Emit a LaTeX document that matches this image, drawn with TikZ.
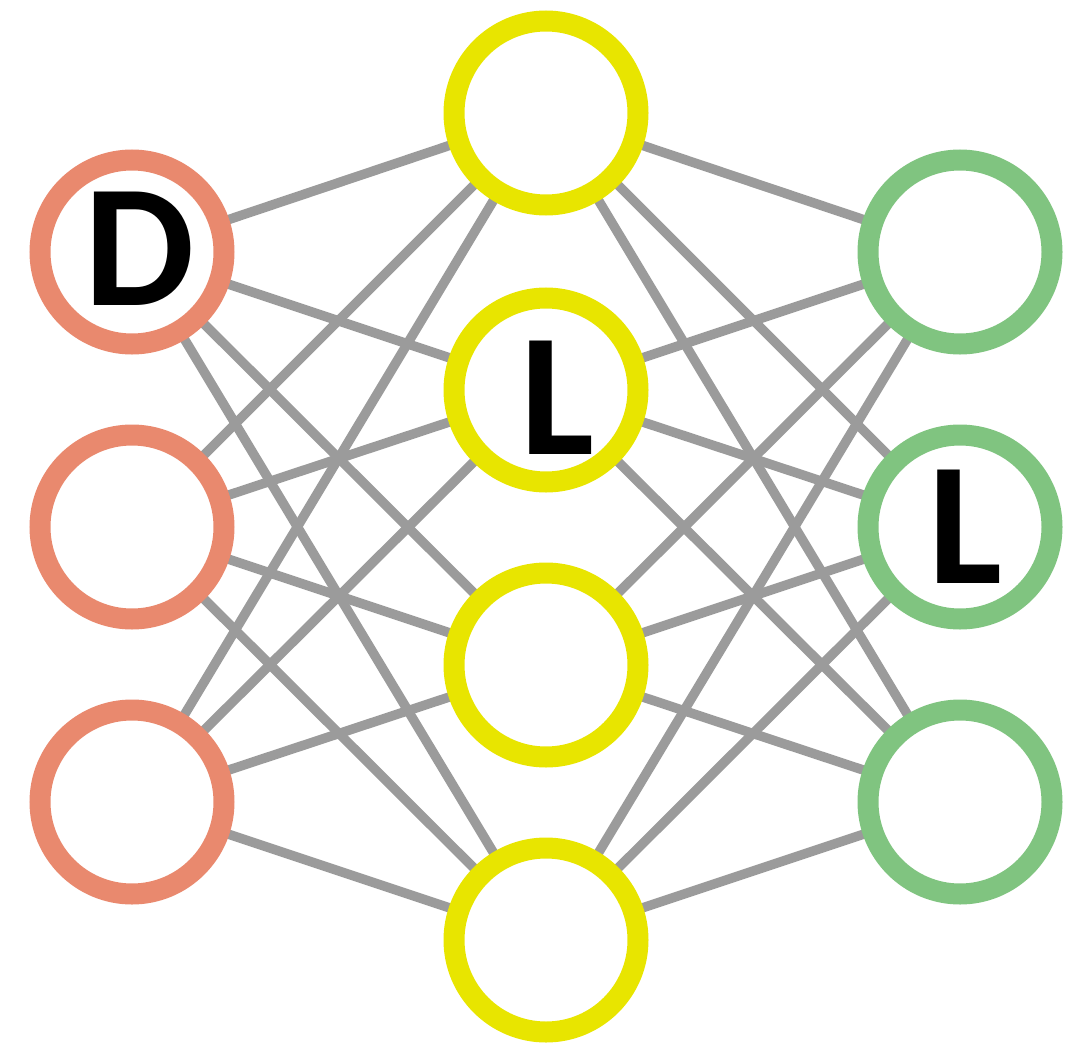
\documentclass[tikz,border=0pt]{standalone}
\usepackage{fontspec}
\usetikzlibrary{backgrounds}
\newfontfamily\lblfont{Carlito}

\definecolor{inorange}{RGB}{233,137,110}
\definecolor{hidyellow}{RGB}{232,229,0}
\definecolor{outgreen}{RGB}{128,196,128}
\definecolor{wiregray}{RGB}{155,155,155}

\tikzset{
  neuron/.style={circle,minimum size=184pt,inner sep=0pt,line width=21pt,fill=white},
  wire/.style={draw=wiregray,line width=9.5pt},
  lbl/.style={inner sep=0pt,font=\lblfont\bfseries\fontsize{175}{175}\selectfont}
}

\begin{document}
\begin{tikzpicture}[x=1pt,y=1pt,yscale=-1,xscale=1]
				\useasboundingbox (0,0) rectangle (1066,1052);

				%Shape: Circle (input layer)
				\node [neuron,draw=inorange] (in1) at (132,252) {};
				\node [neuron,draw=inorange] (in2) at (132,527) {};
				\node [neuron,draw=inorange] (in3) at (132,802) {};
				%Shape: Circle (hidden layer)
				\node [neuron,draw=hidyellow] (hid1) at (546,113) {};
				\node [neuron,draw=hidyellow] (hid2) at (546,390) {};
				\node [neuron,draw=hidyellow] (hid3) at (546,665) {};
				\node [neuron,draw=hidyellow] (hid4) at (546,940) {};
				%Shape: Circle (output layer)
				\node [neuron,draw=outgreen] (out1) at (960,252) {};
				\node [neuron,draw=outgreen] (out2) at (960,527) {};
				\node [neuron,draw=outgreen] (out3) at (960,802) {};

				\begin{pgfonlayer}{background}
				%Straight Lines (input -> hidden)
				\draw [wire] (in1.center) -- (hid1.center) ;
				\draw [wire] (in1.center) -- (hid2.center) ;
				\draw [wire] (in1.center) -- (hid3.center) ;
				\draw [wire] (in1.center) -- (hid4.center) ;
				\draw [wire] (in2.center) -- (hid1.center) ;
				\draw [wire] (in2.center) -- (hid2.center) ;
				\draw [wire] (in2.center) -- (hid3.center) ;
				\draw [wire] (in2.center) -- (hid4.center) ;
				\draw [wire] (in3.center) -- (hid1.center) ;
				\draw [wire] (in3.center) -- (hid2.center) ;
				\draw [wire] (in3.center) -- (hid3.center) ;
				\draw [wire] (in3.center) -- (hid4.center) ;
				%Straight Lines (hidden -> output)
				\draw [wire] (hid1.center) -- (out1.center) ;
				\draw [wire] (hid1.center) -- (out2.center) ;
				\draw [wire] (hid1.center) -- (out3.center) ;
				\draw [wire] (hid2.center) -- (out1.center) ;
				\draw [wire] (hid2.center) -- (out2.center) ;
				\draw [wire] (hid2.center) -- (out3.center) ;
				\draw [wire] (hid3.center) -- (out1.center) ;
				\draw [wire] (hid3.center) -- (out2.center) ;
				\draw [wire] (hid3.center) -- (out3.center) ;
				\draw [wire] (hid4.center) -- (out1.center) ;
				\draw [wire] (hid4.center) -- (out2.center) ;
				\draw [wire] (hid4.center) -- (out3.center) ;
				\end{pgfonlayer}

				% Text Node
				\node [lbl] (txtD) at (140,249) {D};
				% Text Node
				\node [lbl] (txtL1) at (557,398) {L};
				% Text Node
				\node [lbl] (txtL2) at (965,527) {L};

\end{tikzpicture}
\end{document}
